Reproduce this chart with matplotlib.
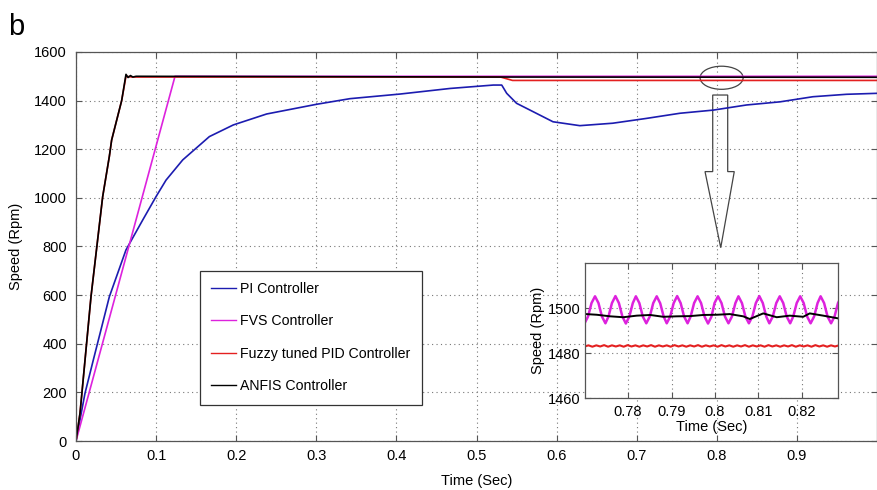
import matplotlib
matplotlib.use("Agg")
import matplotlib.pyplot as plt
from matplotlib.patches import Ellipse, Polygon

plt.rcParams['font.family'] = ['Liberation Sans', 'DejaVu Sans']
plt.rcParams['font.size'] = 10.5

# ---- main plot data ----
pi_t = [0, 0.0112, 0.0216, 0.0416, 0.0624, 0.0833, 0.0999, 0.1124, 0.1332,
        0.1665, 0.1964, 0.238, 0.3005, 0.342, 0.4045, 0.467, 0.521, 0.5315,
        0.5377, 0.55, 0.5668, 0.5955, 0.629, 0.67, 0.7125, 0.754, 0.7957, 0.837,
        0.879, 0.92, 0.962, 1.0]
pi_v = [0, 196, 333, 593, 786, 909, 1005, 1073, 1156,
        1252, 1300, 1345, 1385, 1408, 1427, 1450, 1464, 1464,
        1430, 1389, 1361, 1313, 1297, 1307, 1327, 1348, 1361, 1382,
        1395, 1416, 1426, 1430]

fvs_t = [0, 0.1236, 0.13, 1.0]
fvs_v = [0, 1500, 1500, 1500]

fuzzy_t = [0, 0.005, 0.0187, 0.0333, 0.0416, 0.0445, 0.057, 0.0624, 0.07, 0.53, 0.545, 1.0]
fuzzy_v = [0, 114, 593, 1005, 1170, 1238, 1400, 1500, 1497, 1497, 1483, 1483]

anfis_t = [0, 0.005, 0.0187, 0.0333, 0.0416, 0.0445, 0.057, 0.0624, 0.065, 0.068,
           0.071, 0.075, 0.53, 1.0]
anfis_v = [0, 114, 593, 1005, 1170, 1238, 1400, 1508, 1495, 1503,
           1497, 1500, 1497, 1496]

# ---- inset data ----
fvs_zt = [0.7700, 0.7708, 0.7716,
          0.7724, 0.7732, 0.7740, 0.7748, 0.7755, 0.7763,
          0.7771, 0.7779, 0.7787, 0.7795, 0.7803, 0.7811,
          0.7818, 0.7826, 0.7834, 0.7842, 0.7850, 0.7858,
          0.7866, 0.7874, 0.7882, 0.7889, 0.7897, 0.7905,
          0.7913, 0.7921, 0.7929, 0.7937, 0.7944, 0.7952,
          0.7960, 0.7968, 0.7976, 0.7984, 0.7992, 0.7999,
          0.8007, 0.8015, 0.8023, 0.8031, 0.8039, 0.8047,
          0.8054, 0.8062, 0.8070, 0.8078, 0.8086, 0.8094,
          0.8102, 0.8110, 0.8118, 0.8125, 0.8133, 0.8141,
          0.8149, 0.8157, 0.8165, 0.8173, 0.8180, 0.8188,
          0.8196, 0.8204, 0.8212, 0.8220, 0.8228, 0.8236,
          0.8243, 0.8251, 0.8259, 0.8267, 0.8275, 0.8283, 0.8291]
fvs_zv = [1493.2, 1496.2, 1502.2,
          1505.2, 1502.2, 1496.2, 1493.2, 1496.2, 1502.2,
          1505.3, 1502.2, 1496.2, 1493.1, 1496.2, 1502.2,
          1505.2, 1502.2, 1496.2, 1493.2, 1496.2, 1502.2,
          1505.2, 1502.1, 1496.2, 1493.2, 1496.2, 1502.2,
          1505.3, 1502.2, 1496.2, 1493.2, 1496.2, 1502.2,
          1505.2, 1502.2, 1496.2, 1493.1, 1496.2, 1502.2,
          1505.2, 1502.2, 1496.2, 1493.2, 1496.2, 1502.2,
          1505.2, 1502.2, 1496.2, 1493.2, 1496.2, 1502.2,
          1505.3, 1502.2, 1496.2, 1493.2, 1496.2, 1502.2,
          1505.2, 1502.2, 1496.2, 1493.2, 1496.2, 1502.2,
          1505.2, 1502.2, 1496.2, 1493.2, 1496.2, 1502.2,
          1505.2, 1502.2, 1496.2, 1493.2, 1496.2, 1502.2, 1505.2]

anfis_zt = [0.7703, 0.7728, 0.7759, 0.7789, 0.7820, 0.7851, 0.7881, 0.7912, 0.7943,
            0.7973, 0.8004, 0.8034, 0.8065, 0.8080, 0.8111, 0.8142, 0.8172, 0.8203,
            0.8218, 0.8249, 0.8283]
anfis_zv = [1497.3, 1497.0, 1496.3, 1495.9, 1496.6, 1496.9, 1496.1, 1496.3, 1496.4,
            1496.9, 1497.0, 1497.3, 1496.3, 1495.1, 1497.6, 1495.9, 1496.6, 1496.1,
            1497.6, 1496.6, 1495.4]

fuzzy_zt = [0.7700, 0.7709, 0.7718, 0.7727, 0.7736, 0.7745, 0.7754, 0.7763, 0.7772,
            0.7781, 0.7790, 0.7799, 0.7808, 0.7817, 0.7826, 0.7835, 0.7844, 0.7853,
            0.7862, 0.7871, 0.7880, 0.7889, 0.7898, 0.7907, 0.7916, 0.7925, 0.7934,
            0.7943, 0.7952, 0.7961, 0.7970, 0.7979, 0.7988, 0.7997, 0.8006, 0.8015,
            0.8024, 0.8033, 0.8042, 0.8051, 0.8060, 0.8069, 0.8078, 0.8087, 0.8096,
            0.8105, 0.8114, 0.8123, 0.8132, 0.8141, 0.8150, 0.8159, 0.8168, 0.8177,
            0.8186, 0.8195, 0.8204, 0.8213, 0.8222, 0.8231, 0.8240, 0.8249, 0.8258,
            0.8267, 0.8276, 0.8285]
fuzzy_zv = [1482.9, 1483.4, 1482.8, 1483.4, 1482.9, 1483.5, 1482.8, 1483.4, 1482.9,
            1483.4, 1482.8, 1483.5, 1482.9, 1483.4, 1482.8, 1483.4, 1482.9, 1483.5,
            1482.8, 1483.4, 1482.9, 1483.4, 1482.8, 1483.5, 1482.9, 1483.4, 1482.8,
            1483.4, 1482.9, 1483.5, 1482.8, 1483.4, 1482.9, 1483.4, 1482.8, 1483.5,
            1482.9, 1483.4, 1482.8, 1483.4, 1482.9, 1483.5, 1482.8, 1483.4, 1482.9,
            1483.4, 1482.8, 1483.5, 1482.9, 1483.4, 1482.8, 1483.4, 1482.9, 1483.5,
            1482.8, 1483.4, 1482.9, 1483.4, 1482.8, 1483.5, 1482.9, 1483.4, 1482.8,
            1483.4, 1482.9, 1483.4]

main_xticks = [0, 0.1, 0.2, 0.3, 0.4, 0.5, 0.6, 0.7, 0.8, 0.9]
main_xlabels = ['0', '0.1', '0.2', '0.3', '0.4', '0.5', '0.6', '0.7', '0.8', '0.9']
main_yticks = [0, 200, 400, 600, 800, 1000, 1200, 1400, 1600]
zoom_xticks = [0.78, 0.79, 0.80, 0.81, 0.82]
zoom_xlabels = ['0.78', '0.79', '0.8', '0.81', '0.82']
zoom_yticks = [1460, 1480, 1500]

labels = ['PI Controller', 'FVS Controller', 'Fuzzy tuned PID Controller', 'ANFIS Controller']
c_pi = '#1c1cb0'
c_fvs = '#dd22dd'
c_fuzzy = '#e42020'
c_anfis = '#000000'
spine_c = '#555555'


def style_axes(ax, xpad, ypad):
    ax.grid(True, linestyle=(0, (1, 3)), color='#777777', linewidth=0.8)
    ax.tick_params(direction='in', top=True, right=True, length=4,
                   color=spine_c, labelsize=10.5)
    ax.tick_params(axis='x', pad=xpad)
    ax.tick_params(axis='y', pad=ypad)
    for s in ax.spines.values():
        s.set_color(spine_c)
        s.set_linewidth(0.9)


fig = plt.figure(figsize=(8.77, 4.9), dpi=100)
ax = fig.add_axes([76 / 877, 0.1, 1 - 76 / 877, 0.7939])

ax.plot(pi_t, pi_v, color=c_pi, lw=1.2, label=labels[0])
ax.plot(fvs_t, fvs_v, color=c_fvs, lw=1.2, label=labels[1])
ax.plot(fuzzy_t, fuzzy_v, color=c_fuzzy, lw=1.2, label=labels[2])
ax.plot(anfis_t, anfis_v, color=c_anfis, lw=1.2, label=labels[3])

ax.set_xlim(0, 1.0)
ax.set_ylim(0, 1600)
ax.set_xticks(main_xticks)
ax.set_xticklabels(main_xlabels)
ax.set_yticks(main_yticks)
style_axes(ax, 6, 6.5)
ax.set_xlabel('Time (Sec)', fontsize=10.5, labelpad=8)
ax.set_ylabel('Speed (Rpm)', fontsize=10.5, labelpad=8)

# ellipse + hollow arrow pointing to the inset
ax.add_patch(Ellipse((0.806, 1494), 0.0537, 95, fill=False, edgecolor='#444444', lw=0.9))
ax.add_patch(Polygon([(0.7949, 1423), (0.8136, 1423), (0.8136, 1108), (0.8218, 1108),
                      (0.8049, 795), (0.7853, 1108), (0.7949, 1108)],
                     closed=True, fill=False, edgecolor='#444444', lw=0.9))

leg = ax.legend(loc='upper left', bbox_to_anchor=(200 / 877, 1 - 270.7 / 490),
                bbox_transform=fig.transFigure, borderaxespad=0, fancybox=False,
                edgecolor='#333333', framealpha=1, fontsize=10.2, labelspacing=1.3,
                handlelength=1.75, handletextpad=0.3, borderpad=0.8)
leg.get_frame().set_linewidth(0.9)
for line in leg.get_lines():
    line.set_linewidth(1.0)

fig.text(8 / 877, 1 - 35 / 490, 'b', fontsize=21)

# ---- inset ----
axz = fig.add_axes([585 / 877, 1 - 398 / 490, 253 / 877, 135 / 490])
axz.set_facecolor('white')
axz.plot(fuzzy_zt, fuzzy_zv, color=c_fuzzy, lw=1.5)
axz.plot(fvs_zt, fvs_zv, color=c_fvs, lw=1.8)
axz.plot(anfis_zt, anfis_zv, color=c_anfis, lw=1.4)
axz.set_xlim(0.7701, 0.8283)
axz.set_ylim(1460, 1520)
axz.set_xticks(zoom_xticks)
axz.set_xticklabels(zoom_xlabels)
axz.set_yticks(zoom_yticks)
style_axes(axz, 5, 3)
axz.set_xlabel('Time (Sec)', fontsize=10.5, labelpad=1)
axz.set_ylabel('Speed (Rpm)', fontsize=10.5, labelpad=2)

fig.savefig('out.png', dpi=100)
